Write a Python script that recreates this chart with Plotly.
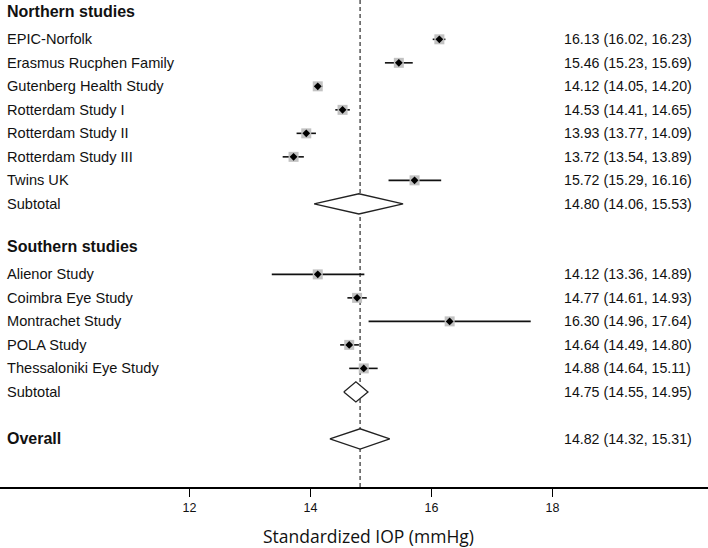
import plotly.graph_objects as go

# ---- data ----
north_names = ["EPIC-Norfolk", "Erasmus Rucphen Family", "Gutenberg Health Study",
               "Rotterdam Study I", "Rotterdam Study II", "Rotterdam Study III", "Twins UK"]
north_est = [16.13, 15.46, 14.12, 14.53, 13.93, 13.72, 15.72]
north_lo = [16.02, 15.23, 14.05, 14.41, 13.77, 13.54, 15.29]
north_hi = [16.23, 15.69, 14.20, 14.65, 14.09, 13.89, 16.16]
north_sub = [14.80, 14.06, 15.53]

south_names = ["Alienor Study", "Coimbra Eye Study", "Montrachet Study",
               "POLA Study", "Thessaloniki Eye Study"]
south_est = [14.12, 14.77, 16.30, 14.64, 14.88]
south_lo = [13.36, 14.61, 14.96, 14.49, 14.64]
south_hi = [14.89, 14.93, 17.64, 14.80, 15.11]
south_sub = [14.75, 14.55, 14.95]

overall = [14.82, 14.32, 15.31]

x_ticks = [12, 14, 16, 18]
x_title = "Standardized IOP (mmHg)"
headers = ["Northern studies", "Southern studies"]

# ---- geometry (body margin removed below, so figure starts at page 0,0) ----
W, H = 708, 548
plot_h = 486.7
row_px = 23.49
top_row = 1 - 39.3 / row_px
bot_row = top_row + plot_h / row_px
px_per_unit = 60.5
x0 = 12 - 189.5 / px_per_unit
x1 = x0 + W / px_per_unit

north_rows = list(range(1, 1 + len(north_names)))
north_sub_row = north_rows[-1] + 1
south_header_row = north_sub_row + 2
south_rows = list(range(south_header_row + 1, south_header_row + 1 + len(south_names)))
south_sub_row = south_rows[-1] + 1
overall_row = south_sub_row + 2

TXT = "#111111"
FONT = "Liberation Sans, Arial, sans-serif"

fig = go.Figure()

# CI lines
all_est = north_est + south_est
all_lo = north_lo + south_lo
all_hi = north_hi + south_hi
all_rows = north_rows + south_rows
lx, ly = [], []
for lo, hi, r in zip(all_lo, all_hi, all_rows):
    lx += [lo, hi, None]
    ly += [r, r, None]
fig.add_trace(go.Scatter(x=lx, y=ly, mode="lines", line=dict(color="#111111", width=1.6),
                         hoverinfo="skip", showlegend=False))
# gray squares
fig.add_trace(go.Scatter(x=all_est, y=all_rows, mode="markers",
                         marker=dict(symbol="square", size=10, color="#c2c2c2"),
                         showlegend=False))
# black center diamonds
fig.add_trace(go.Scatter(x=all_est, y=all_rows, mode="markers",
                         marker=dict(symbol="diamond", size=6, color="black"),
                         showlegend=False))

# summary diamonds
half = 0.43
for (est, lo, hi), r in [(north_sub, north_sub_row), (south_sub, south_sub_row), (overall, overall_row)]:
    fig.add_trace(go.Scatter(x=[lo, est, hi, est, lo], y=[r, r - half, r, r + half, r],
                             mode="lines", fill="toself", fillcolor="white",
                             line=dict(color="#222222", width=1.3),
                             hoverinfo="skip", showlegend=False))

# dashed reference line at overall estimate
fig.add_shape(type="line", x0=overall[0], x1=overall[0], xref="x", yref="paper", y0=0, y1=1,
              line=dict(color="#606060", width=1.6, dash="4px,3px"), layer="below")

ann = []
LABEL_X = 5.0 / W
VALUE_X = 561.5 / W

def label(text, row, bold=False, size=14.6):
    ann.append(dict(x=LABEL_X, xref="paper", y=row, yref="y",
                    text=f"<b>{text}</b>" if bold else text,
                    showarrow=False, xanchor="left", yanchor="middle",
                    font=dict(family=FONT, size=size, color=TXT)))

def value(est, lo, hi, row):
    ann.append(dict(x=VALUE_X, xref="paper", y=row, yref="y",
                    text=f"{est:.2f} ({lo:.2f}, {hi:.2f})",
                    showarrow=False, xanchor="left", yanchor="middle",
                    font=dict(family=FONT, size=14.2, color=TXT)))

label(headers[0], 1 - 1.2, bold=True, size=16)
for n, e, lo, hi, r in zip(north_names, north_est, north_lo, north_hi, north_rows):
    label(n, r)
    value(e, lo, hi, r)
label("Subtotal", north_sub_row)
value(*north_sub, north_sub_row)
label(headers[1], south_header_row - 0.2, bold=True, size=16)
for n, e, lo, hi, r in zip(south_names, south_est, south_lo, south_hi, south_rows):
    label(n, r)
    value(e, lo, hi, r)
label("Subtotal", south_sub_row)
value(*south_sub, south_sub_row)
label("Overall", overall_row, bold=True, size=16)
value(*overall, overall_row)

ann.append(dict(x=368 / W, xref="paper", y=-(535.5 - 486.7) / plot_h, yref="paper",
                text=x_title, showarrow=False, xanchor="center", yanchor="middle", borderpad=0,
                font=dict(family="Open Sans, sans-serif", size=17.5, color=TXT)))

fig.update_layout(
    width=W, height=H,
    margin=dict(l=0, r=0, t=0, b=H - plot_h),
    plot_bgcolor="white", paper_bgcolor="white",
    annotations=ann,
    xaxis=dict(range=[x0, x1], tickvals=x_ticks, ticktext=[str(t) for t in x_ticks],
               showgrid=False, zeroline=False, showline=True, linecolor="black", linewidth=1.5,
               ticks="outside", ticklen=8, tickwidth=1.5, tickcolor="black",
               tickfont=dict(family=FONT, size=12.5, color=TXT), fixedrange=True),
    yaxis=dict(range=[bot_row, top_row], visible=False, fixedrange=True),
    showlegend=False,
)

fig.write_html("out.html", config={"displayModeBar": False, "staticPlot": True},
               post_script="document.body.style.margin='0';document.body.style.overflow='hidden';")
